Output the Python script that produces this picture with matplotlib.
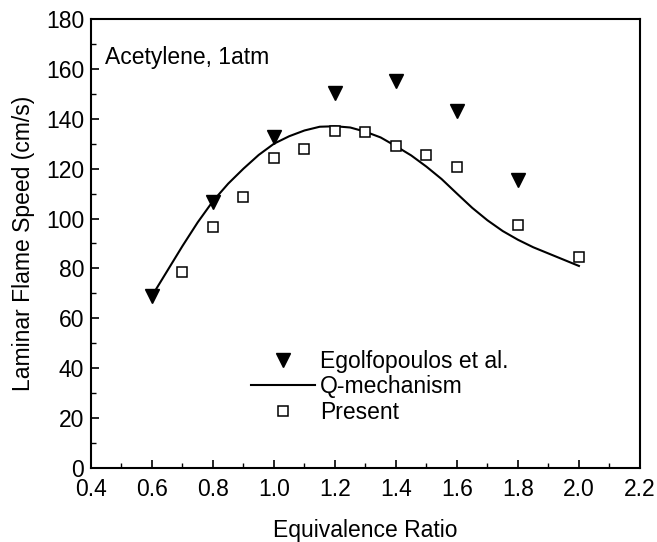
import numpy as np
import matplotlib.pyplot as plt
from matplotlib.ticker import MultipleLocator

plt.rcParams['font.family'] = ['Liberation Sans', 'DejaVu Sans']

# Egolfopoulos et al. (measured)
phi_egolf = [0.6, 0.8, 1.0, 1.2, 1.4, 1.6, 1.8]
su_egolf = [69.0, 106.5, 132.5, 150.5, 155.0, 143.0, 115.5]

# Q-mechanism curve
phi_q = [0.6, 0.65, 0.7, 0.75, 0.8, 0.85, 0.9, 0.95, 1.0, 1.05, 1.1, 1.15,
         1.2, 1.25, 1.3, 1.35, 1.4, 1.45, 1.5, 1.55, 1.6, 1.65, 1.7, 1.75,
         1.8, 1.85, 1.9, 1.95, 2.0]
su_q = [69.0, 79.0, 89.0, 98.5, 107.0, 114.0, 120.0, 125.5, 130.0, 133.0,
        135.3, 136.8, 137.0, 136.5, 134.8, 132.5, 129.0, 125.3, 120.8, 115.8,
        110.0, 104.3, 99.3, 95.0, 91.5, 88.5, 86.0, 83.5, 81.0]

# Present work
phi_pres = [0.7, 0.8, 0.9, 1.0, 1.1, 1.2, 1.3, 1.4, 1.5, 1.6, 1.8, 2.0]
su_pres = [78.6, 96.6, 108.7, 124.3, 127.9, 135.0, 134.7, 129.0, 125.5,
           120.7, 97.4, 84.6]

fs = 16.5

fig = plt.figure(figsize=(6.57, 5.42), dpi=100)
ax = fig.add_axes([0.1385, 0.1365, 0.8355, 0.8285])

ax.plot(phi_egolf, su_egolf, linestyle='none', marker='v', markersize=10,
        color='black', label='Egolfopoulos et al.')
ax.plot(phi_q, su_q, color='black', linewidth=1.5, label='Q-mechanism')
ax.plot(phi_pres, su_pres, linestyle='none', marker='s', markersize=7,
        markerfacecolor='white', markeredgecolor='black', markeredgewidth=1.1,
        label='Present')

ax.set_xlim(0.4, 2.2)
ax.set_ylim(0, 180)
ax.xaxis.set_major_locator(MultipleLocator(0.2))
ax.xaxis.set_minor_locator(MultipleLocator(0.1))
ax.yaxis.set_major_locator(MultipleLocator(20))
ax.yaxis.set_minor_locator(MultipleLocator(10))
ax.xaxis.set_major_formatter(plt.FuncFormatter(lambda v, p: f'{v:.1f}'))
ax.tick_params(which='both', direction='in', labelsize=fs, top=False, right=False)
ax.tick_params(which='major', length=6, width=1.2, pad=5)
ax.tick_params(axis='x', which='major', pad=7)
ax.tick_params(which='minor', length=3.5, width=1.0)
for s in ax.spines.values():
    s.set_linewidth(1.5)

ax.set_xlabel('Equivalence Ratio', fontsize=fs, labelpad=13)
ax.set_ylabel('Laminar Flame Speed (cm/s)', fontsize=fs, labelpad=8)

ax.text(0.026, 0.915, 'Acetylene, 1atm', transform=ax.transAxes,
        fontsize=fs, va='center', ha='left')

ax.legend(loc='upper left', bbox_to_anchor=(0.275, 0.283), frameon=False,
          fontsize=fs, handlelength=2.8, handletextpad=0.2, labelspacing=0.1,
          borderaxespad=0)

fig.savefig('out.png', dpi=100)
